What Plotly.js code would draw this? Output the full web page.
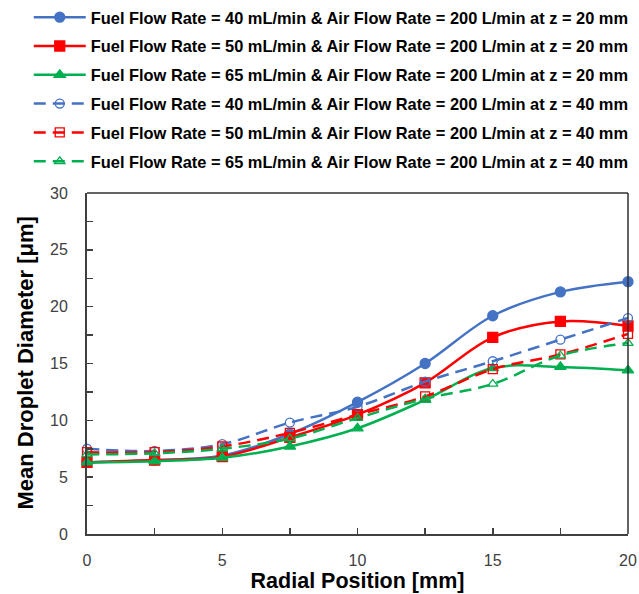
<!DOCTYPE html>
<html>
<head>
<meta charset="utf-8">
<script src="https://cdn.plot.ly/plotly-3.0.1.min.js"></script>
<style>
  html, body { margin: 0; padding: 0; background: #ffffff; }
  #chart { width: 639px; height: 594px; }
</style>
</head>
<body>
<div id="chart"></div>
<script>
// Radial positions (mm)
const radialPosition = [0, 2.5, 5, 7.5, 10, 12.5, 15, 17.5, 20];

// Mean droplet diameter (µm), z = 20 mm
const fuel40_z20 = [6.3, 6.5, 6.9, 8.8, 11.6, 15.0, 19.2, 21.3, 22.2];
const fuel50_z20 = [6.3, 6.5, 6.8, 8.5, 10.5, 13.3, 17.3, 18.7, 18.3];
const fuel65_z20 = [6.3, 6.4, 6.7, 7.7, 9.3, 11.8, 14.6, 14.7, 14.4];

// Mean droplet diameter (µm), z = 40 mm
const fuel40_z40 = [7.5, 7.3, 7.9, 9.8, 11.2, 13.4, 15.2, 17.1, 19.0];
const fuel50_z40 = [7.2, 7.2, 7.7, 8.9, 10.5, 12.1, 14.5, 15.8, 17.6];
const fuel65_z40 = [7.0, 7.1, 7.5, 8.4, 10.2, 11.9, 13.2, 15.7, 16.8];

const seriesNames = [
  "Fuel Flow Rate = 40 mL/min & Air Flow Rate = 200 L/min at z = 20 mm",
  "Fuel Flow Rate = 50 mL/min & Air Flow Rate = 200 L/min at z = 20 mm",
  "Fuel Flow Rate = 65 mL/min & Air Flow Rate = 200 L/min at z = 20 mm",
  "Fuel Flow Rate = 40 mL/min & Air Flow Rate = 200 L/min at z = 40 mm",
  "Fuel Flow Rate = 50 mL/min & Air Flow Rate = 200 L/min at z = 40 mm",
  "Fuel Flow Rate = 65 mL/min & Air Flow Rate = 200 L/min at z = 40 mm"
];

const xTitle = "Radial Position [mm]";
const yTitle = "Mean Droplet Diameter [μm]";

const BLUE = "#4472C4", RED = "#FF0000", GREEN = "#00B050";
const DASH = "12px,7px";

function series(y, name, color, symbol, dashed, size) {
  return {
    x: radialPosition, y: y, name: name, type: "scatter", mode: "lines+markers",
    legendgroup: name, cliponaxis: false,
    line: { color: color, width: 2.5, shape: "spline", smoothing: 1, dash: dashed ? DASH : "solid" },
    marker: { color: color, symbol: symbol, size: size, line: { color: color, width: 1.3 } }
  };
}

const data = [
  series(fuel40_z20, seriesNames[0], BLUE, "circle", false, 10),
  series(fuel50_z20, seriesNames[1], RED, "square", false, 10),
  series(fuel65_z20, seriesNames[2], GREEN, "triangle-up", false, 10),
  series(fuel40_z40, seriesNames[3], BLUE, "circle-open", true, 9),
  series(fuel50_z40, seriesNames[4], RED, "square-open", true, 9),
  series(fuel65_z40, seriesNames[5], GREEN, "triangle-up-open", true, 9)
];

const FONT = "Liberation Sans, Arial, sans-serif";
const tickFont = { family: FONT, size: 16, color: "#404040" };
const xTitleFont = { family: FONT, size: 21.5, color: "#000000", weight: "bold" };
const yTitleFont = { family: FONT, size: 22, color: "#000000", weight: "bold" };

const layout = {
  width: 639, height: 594,
  paper_bgcolor: "#ffffff", plot_bgcolor: "#ffffff",
  margin: { l: 87, r: 11, t: 193, b: 60, autoexpand: false },
  showlegend: true,
  legend: {
    xref: "container", yref: "container",
    x: 0.045, y: 1.0, xanchor: "left", yanchor: "top",
    tracegroupgap: 4.5, itemwidth: 52,
    font: { family: FONT, size: 16.4, color: "#000000", weight: "bold" },
    bgcolor: "rgba(0,0,0,0)"
  },
  xaxis: {
    range: [0, 20], dtick: 5, tick0: 0,
    showgrid: false, zeroline: false,
    showline: true, linecolor: "#404040", linewidth: 2,
    ticks: "inside", ticklen: 6, tickcolor: "#404040", tickwidth: 1.5,
    minor: { dtick: 2.5, ticks: "inside", ticklen: 6, tickcolor: "#404040", tickwidth: 1.5 },
    tickfont: tickFont, ticklabelstandoff: 11,
    title: { text: xTitle, font: xTitleFont, standoff: 5 }
  },
  yaxis: {
    range: [0, 30], dtick: 5, tick0: 0,
    showgrid: false, zeroline: false,
    showline: true, linecolor: "#404040", linewidth: 2,
    ticks: "inside", ticklen: 6, tickcolor: "#404040", tickwidth: 1.5,
    minor: { dtick: 2.5, ticks: "inside", ticklen: 6, tickcolor: "#404040", tickwidth: 1.5 },
    tickfont: tickFont, ticklabelstandoff: 14
  },
  annotations: [
    // vertical axis title, set beside the tick labels
    { text: yTitle, xref: "paper", yref: "paper", x: -0.1146, y: 0.5,
      xanchor: "center", yanchor: "middle", textangle: -90, showarrow: false, font: yTitleFont }
  ],
  shapes: [
    { type: "line", xref: "paper", yref: "paper", x0: 0, x1: 1, y0: 1, y1: 1, line: { color: "#303030", width: 1.5 } },
    { type: "line", xref: "paper", yref: "paper", x0: 1, x1: 1, y0: 0, y1: 1, line: { color: "#303030", width: 1.5 } }
  ]
};

Plotly.newPlot("chart", data, layout, { displayModeBar: false, staticPlot: true });
</script>
</body>
</html>
